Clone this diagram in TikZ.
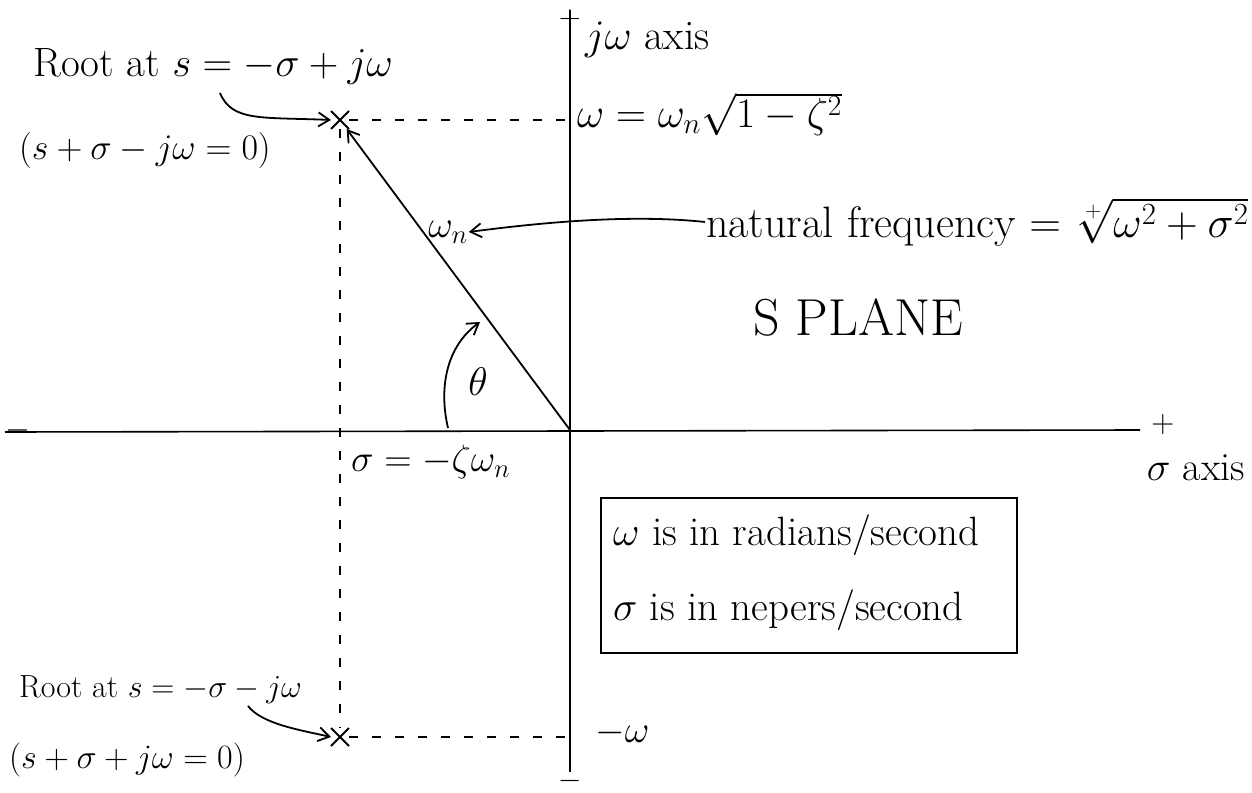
\RequirePackage{fix-cm}
\documentclass[tikz,border=0pt]{standalone}
\usetikzlibrary{arrows.meta,shapes.misc}
\begin{document}
\begin{tikzpicture}[x=1pt,y=-1pt,
  txt/.style={font=\fontsize{#1}{#1}\selectfont, inner sep=1pt},
  txt/.default=38,
  axisline/.style={line width=2.6pt},
  pen/.style={line width=1.8pt},
  guide/.style={line width=1.6pt, dash pattern=on 9pt off 14pt},
  harrow/.style={pen, -{Straight Barb[length=11pt,width=14pt]}},
  rootmark/.style={cross out, draw, line width=2pt, minimum size=16pt, inner sep=0pt}
]
\useasboundingbox (0,0) rectangle (1252,792);
% key points
\coordinate (O) at (570,430);
\coordinate (yt) at (570,10);
\coordinate (yb) at (570,772);
\coordinate (xl) at (5,432);
\coordinate (xr) at (1140,430);
\node[rootmark] (r1) at (340,120) {};
\node[rootmark] (r2) at (340,737) {};
\coordinate (q1) at (570,120);
\coordinate (q2) at (570,737);
% axes
\draw[axisline] (yt) -- (yb);
\draw[line width=1.6pt] (xl) -- (xr);
\node[txt=30] (plusy) at (570,19) {$+$};
\node[txt=30] (minusy) at (570,781) {$-$};
\node[txt=32] (minusx) at (18,430) {$-$};
\node[txt=32] (plusx) at (1163,424) {$+$};
% guides
\draw[guide] (r1) -- (q1);
\draw[guide] (r2) -- (q2);
\draw[guide] (r1) -- (r2);
% radius vector
\draw[harrow] (O) -- (r1);
% labels on axes
\node[txt=42, anchor=west] (jwax) at (584,40) {$j\omega$ axis};
\node[txt=42, anchor=west] (wval) at (576,114) {$\omega=\omega_n\sqrt{1-\zeta^2}$};
\node[txt=38, anchor=west] (sval) at (350,462) {$\sigma=-\zeta\omega_n$};
\node[txt=40, anchor=east] (sax) at (1246,468) {$\sigma$ axis};
\node[txt=38, anchor=west] (mw) at (594,733) {$-\omega$};
% natural frequency
\node[txt=38] (wn) at (448,232) {$\omega_n$};
\node[txt=44, anchor=west] (nat) at (705,222) {natural frequency $=\sqrt[+]{\omega^2+\sigma^2}$};
\draw[harrow] (nat.west) .. controls (640,215) and (560,220) .. (wn.east);
% angle
\node[txt=40] (th) at (478,382) {$\theta$};
\coordinate (a0) at (448,428);
\coordinate (a1) at (480,322);
\draw[harrow] (a0) .. controls (438,385) and (448,345) .. (a1);
% S plane
\node[font=\fontsize{52}{60}\selectfont] (sp) at (858,318) {S PLANE};
% roots text
\node[txt=41, anchor=west] (t1) at (32,66) {Root at $s=-\sigma+j\omega$};
\node[txt=36, anchor=west] (e1) at (18,150) {$(s+\sigma-j\omega=0)$};
\coordinate (c1) at (220,93);
\draw[harrow] (c1) .. controls (232,122) and (262,117) .. (r1.west);
\node[txt=32, anchor=west] (t2) at (18,690) {Root at $s=-\sigma-j\omega$};
\node[txt=34, anchor=west] (e2) at (8,760) {$(s+\sigma+j\omega=0)$};
\coordinate (c2) at (248,706);
\draw[harrow] (c2) .. controls (262,724) and (300,730) .. (r2.west);
% units box
\node[draw, pen, anchor=north west, minimum width=416pt, minimum height=155pt, inner sep=0pt] (box) at (600,497) {};
\node[txt=41, anchor=west] (u1) at (612,535) {$\omega$ is in radians/second};
\node[txt=41, anchor=west] (u2) at (612,610) {$\sigma$ is in nepers/second};
\end{tikzpicture}
\end{document}
